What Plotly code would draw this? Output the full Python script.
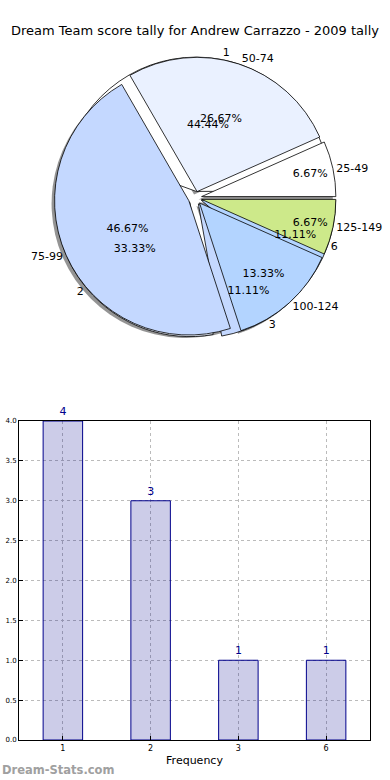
import plotly.graph_objects as go

title = "Dream Team score tally for Andrew Carrazzo - 2009 tally"

# Pie: score ranges (tally)
range_labels = ["25-49", "50-74", "75-99", "100-124", "125-149"]
range_counts = [1, 4, 7, 2, 1]
range_colors = ["#FFFFFF", "#EAF1FF", "#C4D8FF", "#B3D4FF", "#CDE98A"]

# Pie / bars: frequency
freq_labels = ["1", "2", "3", "6"]
freq_counts = [4, 3, 1, 1]
freq_colors = ["#FFFFFF", "#EAF1FF", "#C4D8FF", "#B3D4FF"]

W, H = 390, 780
PULL = 0.05
cx, cy, half = 195, 198, 141
dom_x = [(cx - half) / W, (cx + half) / W]
dom_y = [1 - (cy + half) / H, 1 - (cy - half) / H]
sh = 3
dom_xs = [(cx - half - sh) / W, (cx + half - sh) / W]
dom_ys = [1 - (cy + half + sh) / H, 1 - (cy - half + sh) / H]

font = "DejaVu Sans"


def rot(vals):
    # first slice starts at 3 o'clock and runs counter-clockwise (matplotlib default)
    return 90 - 360.0 * vals[0] / sum(vals)


def common(vals):
    return dict(sort=False, direction="counterclockwise", rotation=rot(vals),
                hoverinfo="skip", showlegend=False, pull=[PULL] * len(vals), automargin=False)


fig = go.Figure()
# shadow
fig.add_trace(go.Pie(values=range_counts, labels=range_labels, domain=dict(x=dom_xs, y=dom_ys),
                     textinfo="none",
                     marker=dict(colors=["rgba(60,60,60,0.55)"] * 5, line=dict(width=0)),
                     **common(range_counts)))
fig.add_trace(go.Pie(values=freq_counts, labels=freq_labels, domain=dict(x=dom_x, y=dom_y),
                     textinfo="none",
                     marker=dict(colors=freq_colors, line=dict(color="black", width=0.8)),
                     **common(freq_counts)))
fig.add_trace(go.Pie(values=range_counts, labels=range_labels, domain=dict(x=dom_x, y=dom_y),
                     textinfo="none",
                     marker=dict(colors=range_colors, line=dict(color="black", width=0.8)),
                     **common(range_counts)))
# text layers
for vals, labs in [(freq_counts, freq_labels), (range_counts, range_labels)]:
    clr = ["rgba(0,0,0,0)"] * len(vals)
    fig.add_trace(go.Pie(values=vals, labels=labs, domain=dict(x=dom_x, y=dom_y),
                         textinfo="percent", texttemplate="%{percent:.2%}",
                         textposition="inside", insidetextorientation="horizontal",
                         textfont=dict(family=font, size=11, color="black"),
                         marker=dict(colors=clr, line=dict(width=0)), **common(vals)))
    fig.add_trace(go.Pie(values=vals, labels=labs, domain=dict(x=dom_x, y=dom_y),
                         textinfo="label", textposition="outside",
                         textfont=dict(family=font, size=11, color="black"),
                         marker=dict(colors=clr, line=dict(width=0)), **common(vals)))

# Bars
fig.add_trace(go.Bar(x=freq_labels, y=freq_counts, width=0.45, text=[str(v) for v in freq_counts],
                     textposition="outside", cliponaxis=False,
                     textfont=dict(family=font, size=11, color="#00008B"),
                     marker=dict(color="rgba(0,0,140,0.2)", line=dict(color="#00008B", width=1)),
                     hoverinfo="skip", showlegend=False, xaxis="x", yaxis="y"))

fig.update_layout(
    width=W, height=H, margin=dict(l=0, r=0, t=0, b=0, autoexpand=False),
    paper_bgcolor="white", plot_bgcolor="white",
    font=dict(family=font, color="black"),
    uniformtext=dict(minsize=11, mode="show"),
    title=dict(text=title, x=0.5, xanchor="center", y=1 - 30 / H, yanchor="middle",
               font=dict(family=font, size=13, color="black")),
    xaxis=dict(domain=[19 / W, 370 / W], type="category", showline=True, mirror=True,
               linecolor="black", linewidth=1, ticks="inside", ticklen=4, tickcolor="black",
               showgrid=True, gridcolor="#bbbbbb", griddash="dot", gridwidth=1, automargin=False,
               tickfont=dict(size=8), title=dict(text="Frequency", font=dict(size=11), standoff=4),
               anchor="y"),
    yaxis=dict(domain=[(H - 740) / H, (H - 421) / H], range=[0, 4], dtick=0.5, tickformat=".1f",
               showline=True, mirror=True, linecolor="black", linewidth=1, ticks="inside",
               ticklen=4, tickcolor="black", showgrid=True, gridcolor="#bbbbbb", griddash="dot",
               gridwidth=1, tickfont=dict(size=7), zeroline=False, anchor="x", automargin=False),
    annotations=[dict(text="<b>Dream-Stats.com</b>", x=0, y=(H - 770) / H, xref="paper", yref="paper",
                      xanchor="left", yanchor="middle", showarrow=False,
                      font=dict(family=font, size=11.5, color="#a0a0a0"))],
)

fig.write_html("out.html", config={"displayModeBar": False},
               post_script="document.body.style.margin='0';")
